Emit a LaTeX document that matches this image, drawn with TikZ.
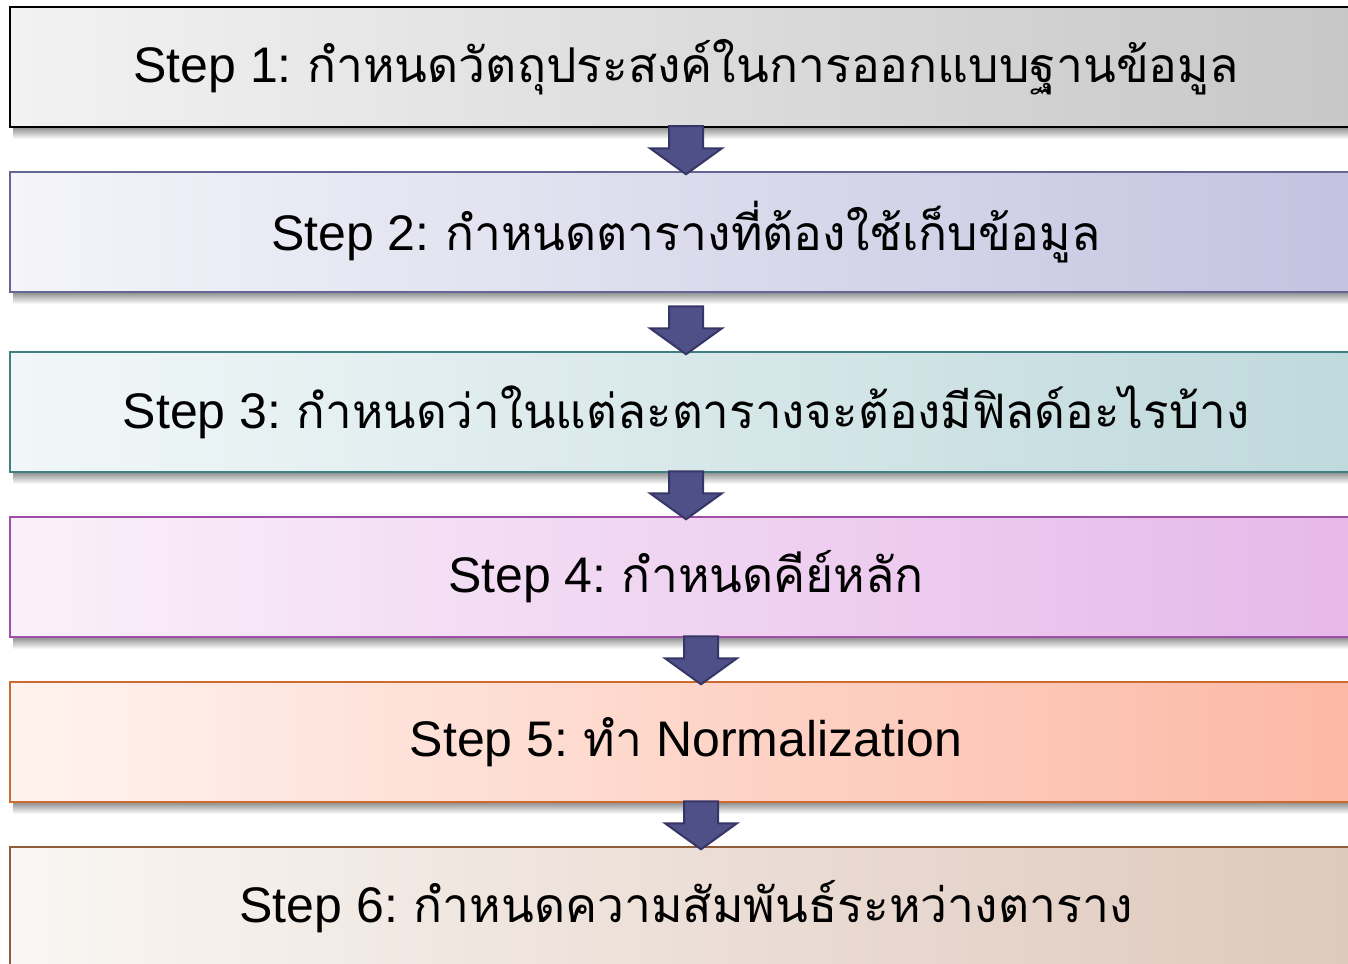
\documentclass[tikz,border=0pt]{standalone}
\usepackage{fontspec}
\setmainfont{Liberation Sans}
\newfontfamily\thaifont[Script=Thai]{Loma}
\usetikzlibrary{calc}
\definecolor{arrfill}{HTML}{505088}
\definecolor{arrdraw}{HTML}{363666}
\tikzset{
  stepbox/.style={draw, line width=2.5pt, minimum width=1352pt, minimum height=120pt, inner sep=0pt, font=\fontsize{50}{60}\selectfont, text=black},
  shadowstrip/.style={top color=black!45, bottom color=white, draw=none},
  blockarrow/.style={fill=arrfill, draw=arrdraw, line width=2pt, line join=miter},
  downarrow/.pic={\path[blockarrow] (-17,0) -- (17,0) -- (17,22) -- (36,22) -- (0,48) -- (-36,22) -- (-17,22) -- cycle;}
}
\newcommand{\thx}[1]{\hspace{-3pt}{\thaifont\fontsize{48}{58}\selectfont #1}}
\begin{document}
\begin{tikzpicture}[x=1pt,y=-1pt]
\useasboundingbox[fill=white] (0,0) rectangle (1348,963);
% shadows
\foreach \b in {127,292,472,637,802}{
  \shade[shadowstrip] (13,\b) rectangle (1362,\b+12);
}
\node[stepbox, draw=black, left color=white!95!black, right color=black!22] (s1) at (686,67) {Step 1: \thx{กำหนดวัตถุประสงค์ในการออกแบบฐานข้อมูล}};
\node[stepbox, draw=blue!30!black!60, left color={rgb,255:red,244;green,244;blue,250}, right color={rgb,255:red,195;green,195;blue,224}] (s2) at (686,232) {Step 2: \thx{กำหนดตารางที่ต้องใช้เก็บข้อมูล}};
\node[stepbox, draw={rgb,255:red,63;green,128;blue,130}, left color={rgb,255:red,241;green,247;blue,248}, right color={rgb,255:red,191;green,217;blue,220}] (s3) at (686,412) {Step 3: \thx{\fontsize{47.5}{58}\selectfont กำหนดว่าในแต่ละตารางจะต้องมีฟิลด์อะไรบ้าง}};
\node[stepbox, draw={rgb,255:red,158;green,79;blue,168}, left color={rgb,255:red,250;green,240;blue,250}, right color={rgb,255:red,230;green,184;blue,233}] (s4) at (686,577) {Step 4: \thx{กำหนดคีย์หลัก}};
\node[stepbox, draw={rgb,255:red,204;green,106;blue,48}, left color={rgb,255:red,255;green,243;blue,239}, right color={rgb,255:red,252;green,184;blue,164}] (s5) at (686,742) {Step 5: \thx{ทำ} Normalization};
\node[stepbox, draw={rgb,255:red,143;green,92;blue,60}, left color={rgb,255:red,249;green,246;blue,243}, right color={rgb,255:red,223;green,200;blue,188}] (s6) at (686,907) {Step 6: \thx{กำหนดความสัมพันธ์ระหว่างตาราง}};
% arrows
\pic at ($(s1.south)+(0,-2)$) {downarrow};
\pic at ($(s2.south)+(0,13)$) {downarrow};
\pic at ($(s3.south)+(0,-2)$) {downarrow};
\pic at ($(s4.south)+(15,-2)$) {downarrow};
\pic at ($(s5.south)+(15,-2)$) {downarrow};
\end{tikzpicture}
\end{document}
